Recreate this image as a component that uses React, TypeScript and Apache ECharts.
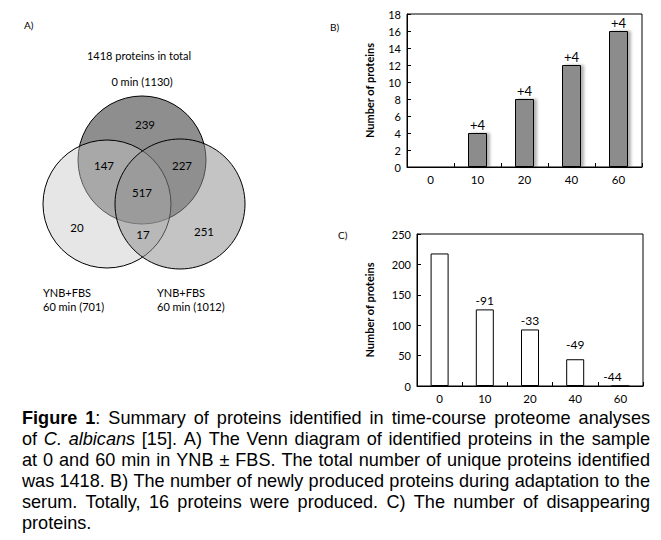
import React, { useEffect, useRef } from 'react';
import * as echarts from 'echarts';

// ---- data ----
const timeCategories = ['0', '10', '20', '40', '60'];
const newProteins = [0, 4, 8, 12, 16];
const newLabels = ['', '+4', '+4', '+4', '+4'];
const lostProteins = [218, 126, 93, 44, 0];
const lostLabels = ['', '-91', '-33', '-49', '-44'];
const yNameB = 'Number of proteins';
const yNameC = 'Number of proteins';

const vennTitle = '1418 proteins in total';
const vennTopSet = '0 min (1130)';
const vennLeftSet = ['YNB+FBS', '60 min (701)'];
const vennRightSet = ['YNB+FBS', '60 min (1012)'];
// regions: top only, top∩left, top∩right, all, left only, left∩right, right only
const vennCounts = ['239', '147', '227', '517', '20', '17', '251'];

const captionLines = [
  '**Figure 1**: Summary of proteins identified in time-course proteome analyses',
  'of _C. albicans_ [15]. A) The Venn diagram of identified proteins in the sample',
  'at 0 and 60 min in YNB ± FBS. The total number of unique proteins identified',
  'was 1418. B) The number of newly produced proteins during adaptation to the',
  'serum. Totally, 16 proteins were produced. C) The number of disappearing',
  'proteins.',
];

// ---- helpers ----
type Seg = { t: string; b: boolean; i: boolean };
function parseLine(s: string): Seg[][] {
  const words: Seg[][] = [];
  let cur: Seg[] = [];
  let bold = false, ital = false, buf = '';
  const flush = () => { if (buf) { cur.push({ t: buf, b: bold, i: ital }); buf = ''; } };
  let k = 0;
  while (k < s.length) {
    if (s.startsWith('**', k)) { flush(); bold = !bold; k += 2; continue; }
    if (s[k] === '_') { flush(); ital = !ital; k++; continue; }
    if (s[k] === ' ') { flush(); if (cur.length) words.push(cur); cur = []; k++; continue; }
    buf += s[k]; k++;
  }
  flush();
  if (cur.length) words.push(cur);
  return words;
}

const capFont = (sg: Seg, size: number) =>
  `${sg.i ? 'italic ' : ''}${sg.b ? 'bold ' : ''}${size}px "Liberation Sans", Arial, sans-serif`;

function buildCaption(): any[] {
  const canvas = document.createElement('canvas');
  const ctx = canvas.getContext('2d')!;
  const measure = (sg: Seg, size: number) => { ctx.font = capFont(sg, size); return ctx.measureText(sg.t).width; };
  const x0 = 22, x1 = 650, y0 = 418, lh = 21;
  const W = x1 - x0;
  const parsed = captionLines.map(parseLine);
  // choose the font size so that the longest line just fits with normal spaces
  const ref = 16;
  const spaceRef = measure({ t: ' ', b: false, i: false }, ref);
  let maxNat = 0;
  parsed.forEach(words => {
    const tot = words.reduce((a, w) => a + w.reduce((b, sg) => b + measure(sg, ref), 0), 0) + spaceRef * (words.length - 1);
    maxNat = Math.max(maxNat, tot);
  });
  const size = Math.floor((ref * W / maxNat) * 10) / 10;
  const els: any[] = [];
  parsed.forEach((words, li) => {
    const widths = words.map(w => w.reduce((a, sg) => a + measure(sg, size), 0));
    const total = widths.reduce((a, b) => a + b, 0);
    const last = li === captionLines.length - 1;
    const space = measure({ t: ' ', b: false, i: false }, size);
    const gap = last || words.length < 2 ? space : (W - total) / (words.length - 1);
    let x = x0;
    words.forEach((w, wi) => {
      let xs = x;
      w.forEach(sg => {
        els.push({
          type: 'text', x: xs, y: y0 + li * lh, silent: true,
          style: { text: sg.t, font: capFont(sg, size), fill: '#000', textAlign: 'left', textVerticalAlign: 'middle' },
        });
        xs += measure(sg, size);
      });
      x += widths[wi] + gap;
    });
  });
  return els;
}

const CF = 'Lato, "Open Sans", sans-serif';

function vtext(text: string, x: number, y: number, align = 'center', size = 11) {
  return {
    type: 'text', x, y, silent: true,
    style: { text, fill: '#000', fontFamily: CF, fontSize: size, textAlign: align, textVerticalAlign: 'middle' },
  };
}

export default function App() {
  const ref = useRef<HTMLDivElement>(null);
  useEffect(() => {
    if (!ref.current) return;
    const chart = echarts.init(ref.current, null, { renderer: 'svg' });

    const vennPos = [
      [145, 124], [104, 165], [182, 165], [142, 192], [77, 227], [143, 234], [204, 231],
    ];

    const graphic: any[] = [
      { type: 'circle', shape: { cx: 142, cy: 160, r: 64 }, style: { fill: '#8e8e8e', stroke: '#000', lineWidth: 1 } },
      { type: 'circle', shape: { cx: 107, cy: 204, r: 64 }, style: { fill: 'rgba(200,200,200,0.45)', stroke: '#000', lineWidth: 1 } },
      { type: 'circle', shape: { cx: 180, cy: 204, r: 65 }, style: { fill: 'rgba(143,143,143,0.53)', stroke: '#000', lineWidth: 1 } },
      ...vennCounts.map((c, i) => vtext(c, vennPos[i][0], vennPos[i][1], 'center', 11.5)),
      vtext(vennTitle, 139, 55),
      vtext(vennTopSet, 142, 81),
      vtext(vennLeftSet[0], 43, 292, 'left'),
      vtext(vennLeftSet[1], 43, 306, 'left'),
      vtext(vennRightSet[0], 157, 292, 'left'),
      vtext(vennRightSet[1], 157, 306, 'left'),
      vtext('A)', 24, 25, 'left', 10),
      vtext('B)', 330, 27, 'left', 10),
      vtext('C)', 338, 235, 'left', 10),
      ...buildCaption(),
    ];

    const xAxisBase = (gi: number) => ({
      type: 'category', gridIndex: gi, data: timeCategories,
      axisLine: { lineStyle: { color: '#000', width: 1 } },
      axisTick: { show: true, inside: true, length: 4, lineStyle: { color: '#000' } },
      axisLabel: { color: '#000', fontSize: 11.5, margin: 6, fontFamily: CF },
      splitLine: { show: false },
    });
    const yAxisBase = (gi: number, max: number, interval: number, name: string, gap: number) => ({
      type: 'value', gridIndex: gi, min: 0, max, interval, name,
      nameLocation: 'middle', nameGap: gap,
      nameTextStyle: { fontWeight: 'bold', fontSize: 11, color: '#000', fontFamily: CF },
      axisLine: { show: true, lineStyle: { color: '#000', width: 1 } },
      axisTick: { show: true, inside: true, length: 4, lineStyle: { color: '#000' } },
      axisLabel: { color: '#000', fontSize: 11, margin: 6, fontFamily: CF },
      splitLine: { show: false },
    });

    chart.setOption({
      animation: false,
      backgroundColor: '#fff',
      textStyle: { fontFamily: CF },
      grid: [
        { left: 407, top: 14, width: 235, height: 153, show: true, borderColor: '#000', borderWidth: 1 },
        { left: 417, top: 234, width: 226, height: 152, show: true, borderColor: '#000', borderWidth: 1 },
      ],
      xAxis: [xAxisBase(0), xAxisBase(1)],
      yAxis: [yAxisBase(0, 18, 2, yNameB, 32), yAxisBase(1, 250, 50, yNameC, 42)],
      series: [
        {
          type: 'bar', xAxisIndex: 0, yAxisIndex: 0, barWidth: 19,
          data: newProteins.map((v, i) => ({
            value: v,
            label: newLabels[i] ? { show: true, formatter: newLabels[i] } : { show: false },
          })),
          itemStyle: {
            color: '#8c8c8c', borderColor: '#000', borderWidth: 1,
            shadowColor: 'rgba(0,0,0,0.3)', shadowBlur: 3, shadowOffsetX: 3, shadowOffsetY: 0,
          },
          label: { position: 'top', distance: 2, color: '#000', fontSize: 13, fontFamily: CF },
        },
        {
          type: 'bar', xAxisIndex: 1, yAxisIndex: 1, barWidth: 18,
          data: lostProteins.map((v, i) => ({
            value: v,
            label: lostLabels[i]
              ? { show: true, formatter: lostLabels[i], distance: i === 3 ? 9 : 3, offset: i === 4 ? [-8, 0] : [0, 0] }
              : { show: false },
          })),
          itemStyle: { color: '#fff', borderColor: '#000', borderWidth: 1 },
          label: { position: 'top', distance: 3, color: '#000', fontSize: 12, fontFamily: CF },
        },
      ],
      graphic,
    });
    return () => chart.dispose();
  }, []);

  return (
    <div
      ref={ref}
      style={{ position: 'absolute', left: 0, top: 0, width: 661, height: 540, background: '#fff' }}
    />
  );
}
